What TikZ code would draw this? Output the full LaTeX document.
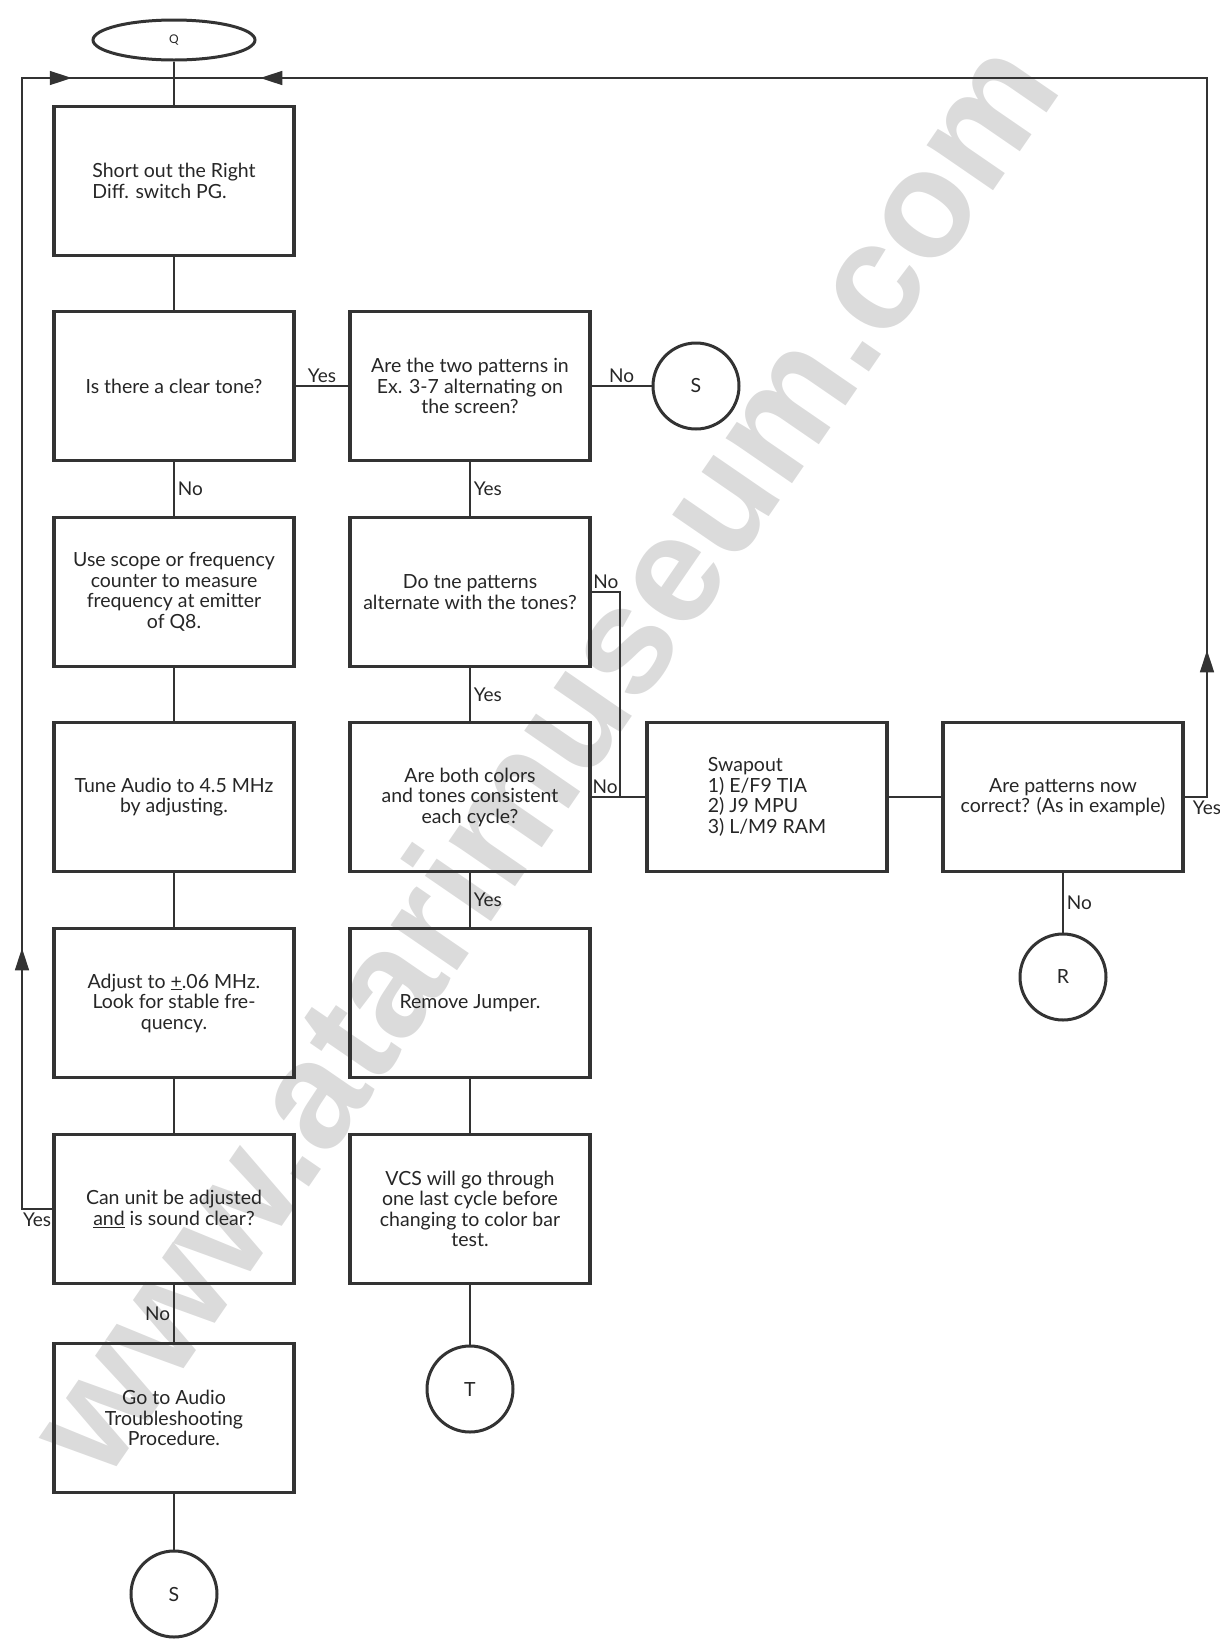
\documentclass[tikz,border=0pt]{standalone}
\usepackage{fontspec}
\setmainfont{Lato}
\newfontfamily\wmfont{Liberation Sans}
\usetikzlibrary{arrows.meta,decorations.markings,shapes.geometric}

\begin{document}
\begin{tikzpicture}[x=1pt, y=-1pt,
  every node/.style={font=\fontsize{19.5}{20.5}\selectfont, text=black!85},
  box/.style={draw=black!80, line width=3.5pt, minimum width=240pt, minimum height=149pt, align=center, inner sep=0pt},
  conn/.style={draw=black!80, line width=1.6pt},
  connector/.style={circle, draw=black!80, line width=3pt, minimum size=86pt, inner sep=0pt},
  lbl/.style={font=\fontsize{19}{20}\selectfont, inner sep=3pt},
  retpath/.style 2 args={postaction={decorate}, decoration={markings,
    mark=at position #1 with {\arrow{Triangle[length=22pt,width=14pt]}},
    mark=at position #2 with {\arrow{Triangle[length=22pt,width=14pt]}}}}
]
\useasboundingbox (0,0) rectangle (1220,1642);
\node[rotate=55.5, text=black!14, font=\fontsize{152}{152}\wmfont\bfseries] (wm) at (540,755) {www.atarimuseum.com}; % watermark

  % LEFT COLUMN
  \node[ellipse, draw=black!80, line width=3pt, minimum width=162pt, minimum height=40pt, inner sep=0pt] (q) at (174,40) {\fontsize{12}{12}\selectfont Q};
  \node[box, align=left] (b1) at (174,181) {Short out the Right\\Diff. switch PG.};
  \node[box] (b2) at (174,386) {Is there a clear tone?};
  \node[box] (b3) at (174,592) {Use scope or frequency\\counter to measure\\frequency at emitter\\of Q8.};
  \node[box] (b4) at (174,797) {Tune Audio to 4.5 MHz\\by adjusting.};
  \node[box] (b5) at (174,1003) {Adjust to \underline{+}.06 MHz.\\Look for stable fre-\\quency.};
  \node[box] (b6) at (174,1209) {Can unit be adjusted\\\underline{and} is sound clear?};
  \node[box] (b7) at (174,1418) {Go to Audio\\Troubleshooting\\Procedure.};
  \node[connector] (sL) at (174,1594) {S};

  % MIDDLE COLUMN
  \node[box] (m2) at (470,386) {Are the two patterns in\\Ex. 3-7 alternating on\\the screen?};
  \node[connector] (sR) at (696,386) {S};
  \node[box] (m3) at (470,592) {Do tne patterns\\alternate with the tones?};
  \node[box] (m4) at (470,797) {Are both colors\\and tones consistent\\each cycle?};
  \node[box] (m5) at (470,1003) {Remove Jumper.};
  \node[box] (m6) at (470,1209) {VCS will go through\\one last cycle before\\changing to color bar\\test.};
  \node[connector] (tC) at (470,1389) {T};

  % RIGHT PART
  \node[box, align=left] (swap) at (767,797) {Swapout\\1) E/F9 TIA\\2) J9 MPU\\3) L/M9 RAM};
  \node[box] (now) at (1063,797) {Are patterns now\\correct? (As in example)};
  \node[connector] (rC) at (1063,977) {R};

  \coordinate (top) at (174,78); % loop back into first step
  \coordinate (tl) at (22,78);
  \coordinate (tr) at (1207,78);
  \coordinate (bl) at (22,1209);
  \coordinate (br) at (1207,797);
  \coordinate (j) at (620,797); % No branch joins

  \draw[conn] (q) -- (b1); % Q -- short out
  \draw[conn] (b1) -- (b2);
  \draw[conn] (b2) -- node[lbl, right]{No} (b3);
  \draw[conn] (b3) -- (b4);
  \draw[conn] (b4) -- (b5);
  \draw[conn] (b5) -- (b6);
  \draw[conn] (b6) -- node[lbl, left]{No} (b7);
  \draw[conn] (b7) -- (sL);
  \draw[conn] (b2) -- node[lbl, above]{Yes} (m2); % tone -- patterns
  \draw[conn] (m2) -- node[lbl, above]{No} (sR);
  \draw[conn] (m2) -- node[lbl, right]{Yes} (m3);
  \draw[conn] (m3) -- node[lbl, right]{Yes} (m4);
  \draw[conn] (m4) -- node[lbl, right]{Yes} (m5);
  \draw[conn] (m5) -- (m6);
  \draw[conn] (m6) -- (tC);
  \draw[conn] (m3.east) -- node[lbl, above]{No} (m3.east -| j) -- (j); % tones No
  \draw[conn] (m4) -- node[lbl, above, pos=0.25]{No} (swap);
  \draw[conn] (swap) -- (now);
  \draw[conn] (now) -- node[lbl, right]{No} (rC);
  \draw[conn, retpath={169pt}{1688pt}] (now.east) -- (br) node[lbl, below]{Yes} -- (tr) -- (top); % Yes -- back to top
  \draw[conn, retpath={291pt}{1211pt}] (b6.west) -- node[lbl, below]{Yes} (bl) -- (tl) -- (top); % Yes -- back to top
\end{tikzpicture}
\end{document}
